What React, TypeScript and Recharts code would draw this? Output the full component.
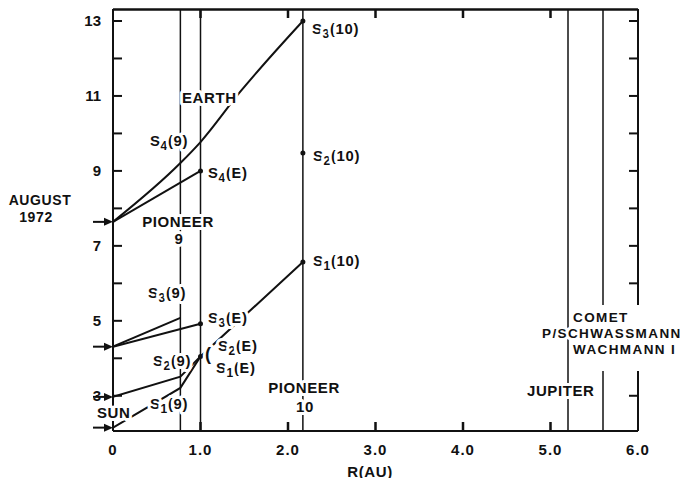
import { ComposedChart, Line, XAxis, YAxis, ReferenceLine, ReferenceDot } from "recharts";

const W = 678;
const H = 470;
const FONT = '"Liberation Sans", Arial, sans-serif';

const rTicks = [0, 1, 2, 3, 4, 5, 6];
const dateTicks = [3, 4, 5, 6, 7, 8, 9, 10, 11, 12, 13];
const dateLabels = [3, 5, 7, 9, 11, 13];
const rMax = 6;
const dateMin = 2.06;
const dateMax = 13.32;

// radial positions (AU)
const pioneer9R = 0.77;
const earthR = 1.0;
const pioneer10R = 2.17;
const jupiterR = 5.2;
const cometR = 5.6;

// dates the sector boundaries leave the sun
const sunDates = [7.64, 4.31, 2.97, 2.15];

// tracks: R (AU) vs date (August 1972)
const upperR = [0, 0.77, 1.0, 1.45, 2.17];
const upperT = [7.64, 9.21, 9.77, 11.1, 13.0];
const s4eR = [0, 1.0];
const s4eT = [7.64, 9.0];
const s39R = [0, 0.77];
const s39T = [4.31, 5.08];
const s3eR = [0, 1.0];
const s3eT = [4.31, 4.92];
const s2R = [0, 0.77, 1.0];
const s2T = [2.97, 3.51, 4.05];
const s1R = [0, 0.77, 1.0, 2.17];
const s1T = [2.15, 3.21, 4.05, 6.57];

// marked arrivals
const dotR = [2.17, 2.17, 2.17, 1.0, 1.0, 1.0];
const dotT = [13.0, 9.48, 6.57, 9.0, 4.92, 4.05];

const track = (r: number[], t: number[]) => r.map((x, i) => ({ r: x, t: t[i] }));

const ink = "#111";

// plot box (chart px), shared by the chart margins and the frame overlay
const M = { top: 1, right: 48, left: 0, bottom: 0 };
const yAxisW = 105;
const xAxisH = 47;
const plotL = M.left + yAxisW;
const plotT = M.top;
const plotW = W - plotL - M.right;
const plotH = H - plotT - xAxisH - M.bottom;
const px = (r: number) => plotL + (r / rMax) * plotW;
const py = (t: number) => plotT + ((dateMax - t) / (dateMax - dateMin)) * plotH;
const tickLen = 9;
const tickDR = (tickLen / plotW) * rMax;

const BottomTick = (p: any) => {
  const v = p.payload.value;
  return (
    <text x={p.x} y={p.y + 18} textAnchor="middle" dominantBaseline="central"
      fontFamily={FONT} fontWeight={700} fontSize={15} fill={ink} letterSpacing={1}>
      {v === 0 ? "0" : v.toFixed(1)}
    </text>
  );
};

const LeftTick = (p: any) => {
  const v = p.payload.value;
  if (!dateLabels.includes(v)) return <g />;
  return (
    <text x={p.x - 12} y={p.y} textAnchor="end" dominantBaseline="central"
      fontFamily={FONT} fontWeight={700} fontSize={15} fill={ink}>
      {v}
    </text>
  );
};

const Arrow = (p: any) => (
  <g>
    <line x1={p.cx - 20} x2={p.cx - 6} y1={p.cy} y2={p.cy} stroke={ink} strokeWidth={2} />
    <polygon points={`${p.cx},${p.cy} ${p.cx - 9},${p.cy - 4} ${p.cx - 9},${p.cy + 4}`} fill={ink} />
  </g>
);

const halo = {
  fontFamily: FONT,
  fontWeight: 700,
  fontSize: 15,
  fill: ink,
  stroke: "#fff",
  strokeWidth: 6,
  strokeLinejoin: "round" as const,
  paintOrder: "stroke",
  letterSpacing: 0.6,
};

const T = ({ x, y, anchor = "start", size, spacing, children }: any) => (
  <text x={x} y={y} textAnchor={anchor} dominantBaseline="central"
    style={{ ...(halo as any), ...(size ? { fontSize: size } : {}), ...(spacing ? { letterSpacing: spacing } : {}) }}>
    {children}
  </text>
);

const S = ({ x, y, n, tag }: any) => (
  <text x={x} y={y} dominantBaseline="central" style={halo as any}>
    <tspan>S</tspan>
    <tspan dy={6} fontSize={12}>{n}</tspan>
    <tspan dy={-6}>({tag})</tspan>
  </text>
);

const ref = { xAxisId: "b", yAxisId: "l", stroke: ink, ifOverflow: "visible" as const };

export default function App() {
  return (
    <div style={{ position: "relative", width: W, height: H }}>
      <ComposedChart width={W} height={H} margin={M}>
        <XAxis xAxisId="b" dataKey="r" type="number" domain={[0, rMax]} ticks={rTicks} interval={0}
          allowDataOverflow height={xAxisH} tickSize={0} tickMargin={0} tickLine={false}
          axisLine={{ stroke: ink, strokeWidth: 2 }} tick={BottomTick} />
        <YAxis yAxisId="l" type="number" domain={[dateMin, dateMax]} ticks={dateTicks} interval={0}
          allowDataOverflow width={yAxisW} tickSize={0} tickMargin={0} tickLine={false}
          axisLine={{ stroke: ink, strokeWidth: 2 }} tick={LeftTick} />

        <ReferenceLine {...ref} x={rMax} strokeWidth={2} />
        {dateTicks.map((v) => (
          <ReferenceLine key={"lt" + v} {...ref} strokeWidth={2}
            segment={[{ x: 0, y: v }, { x: tickDR, y: v }]} />
        ))}
        {dateTicks.map((v) => (
          <ReferenceLine key={"rt" + v} {...ref} strokeWidth={2}
            segment={[{ x: rMax - tickDR, y: v }, { x: rMax, y: v }]} />
        ))}

        {[pioneer9R, earthR, pioneer10R, jupiterR, cometR].map((r) => (
          <ReferenceLine key={"v" + r} {...ref} x={r} strokeWidth={1.5} />
        ))}

        <Line xAxisId="b" yAxisId="l" data={track(upperR, upperT)} dataKey="t" type="monotone"
          stroke={ink} strokeWidth={2} dot={false} isAnimationActive={false} />
        <Line xAxisId="b" yAxisId="l" data={track(s4eR, s4eT)} dataKey="t" type="linear"
          stroke={ink} strokeWidth={2} dot={false} isAnimationActive={false} />
        <Line xAxisId="b" yAxisId="l" data={track(s39R, s39T)} dataKey="t" type="linear"
          stroke={ink} strokeWidth={2} dot={false} isAnimationActive={false} />
        <Line xAxisId="b" yAxisId="l" data={track(s3eR, s3eT)} dataKey="t" type="linear"
          stroke={ink} strokeWidth={2} dot={false} isAnimationActive={false} />
        <Line xAxisId="b" yAxisId="l" data={track(s2R, s2T)} dataKey="t" type="linear"
          stroke={ink} strokeWidth={2} dot={false} isAnimationActive={false} />
        <Line xAxisId="b" yAxisId="l" data={track(s1R, s1T)} dataKey="t" type="linear"
          stroke={ink} strokeWidth={2} dot={false} isAnimationActive={false} />

        {dotR.map((r, i) => (
          <ReferenceDot key={"d" + i} xAxisId="b" yAxisId="l" x={r} y={dotT[i]} r={2.5}
            fill={ink} stroke="none" />
        ))}
        {sunDates.map((t) => (
          <ReferenceDot key={"a" + t} xAxisId="b" yAxisId="l" x={0} y={t} r={0}
            ifOverflow="visible" shape={Arrow} />
        ))}
      </ComposedChart>

      <svg width={W} height={H} style={{ position: "absolute", left: 0, top: 0, overflow: "visible", pointerEvents: "none" }}>
        {/* top edge and inward ticks along top and bottom */}
        <line x1={px(0)} x2={px(rMax)} y1={py(dateMax) + 0.5} y2={py(dateMax) + 0.5} stroke={ink} strokeWidth={2.5} />
        {rTicks.slice(1, -1).map((r) => (
          <g key={"tb" + r}>
            <rect x={px(r) - 1.25} y={py(dateMin) - tickLen} width={2.5} height={tickLen} fill={ink} />
            <rect x={px(r) - 1.25} y={py(dateMax)} width={2.5} height={tickLen} fill={ink} />
          </g>
        ))}
        <rect x={592} y={297} width={60} height={66} fill="#fff" />
        <T x={174} y={89}>EARTH</T>
        <S x={142} y={132} n="4" tag="9" />
        <S x={200} y={164} n="4" tag="E" />
        <T x={170} y={213} anchor="middle">PIONEER</T>
        <T x={171} y={230} anchor="middle">9</T>
        <S x={304} y={20} n="3" tag="10" />
        <S x={305} y={147} n="2" tag="10" />
        <S x={305} y={252} n="1" tag="10" />
        <S x={140} y={284} n="3" tag="9" />
        <S x={200} y={309} n="3" tag="E" />
        <S x={145} y={352} n="2" tag="9" />
        <text x={197} y={346} dominantBaseline="central" style={{ ...(halo as any), fontSize: 18 }}>(</text>
        <S x={210} y={337} n="2" tag="E" />
        <S x={208} y={359} n="1" tag="E" />
        <S x={142} y={395} n="1" tag="9" />
        <T x={89} y={404}>SUN</T>
        <T x={296} y={379} anchor="middle">PIONEER</T>
        <T x={297} y={398} anchor="middle">10</T>
        <T x={519} y={382}>JUPITER</T>
        <T x={565} y={309} size={13.5} spacing={1.4}>COMET</T>
        <T x={534} y={325} size={13.5} spacing={1.4}>P/SCHWASSMANN</T>
        <T x={565} y={341} size={13.5} spacing={1.4}>WACHMANN I</T>
        <T x={32} y={192} anchor="middle" size={14}>AUGUST</T>
        <T x={28} y={209} anchor="middle" size={14}>1972</T>
        <T x={362} y={463} anchor="middle">R(AU)</T>
      </svg>
    </div>
  );
}
